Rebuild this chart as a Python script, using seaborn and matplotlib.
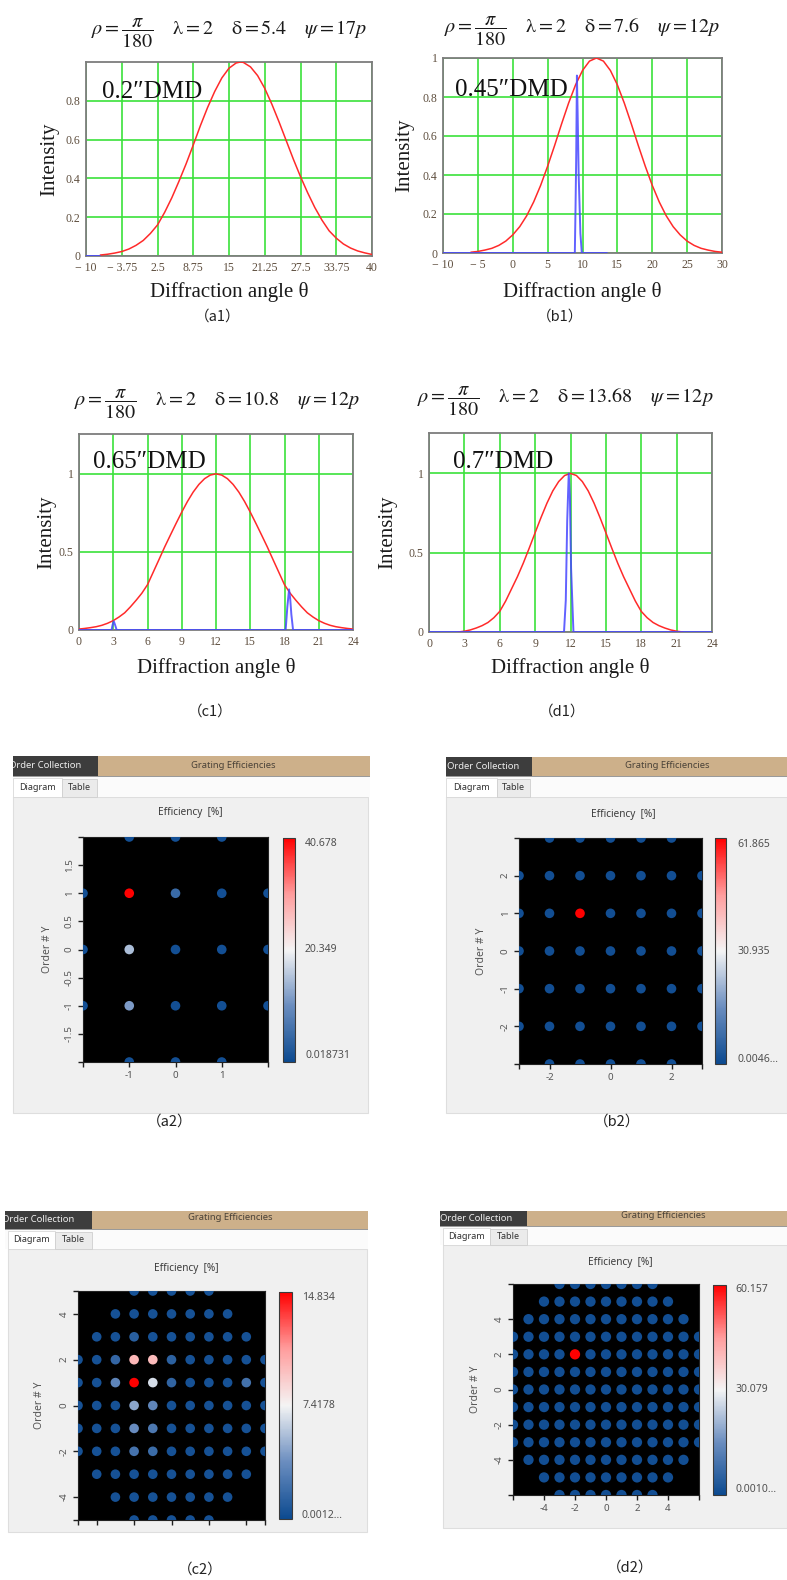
import matplotlib
matplotlib.use("Agg")
import matplotlib.pyplot as plt
import seaborn as sns
import pandas as pd
from matplotlib.colors import LinearSegmentedColormap, Normalize
from matplotlib.patches import Rectangle
from matplotlib.cm import ScalarMappable

# ======================= DATA =======================
# ---- (a1) 0.2" DMD ----
a1_red_x = [-7.5, -6.25, -5, -3.75, -2.5, -1.25, 0, 1.25, 2.5, 3.75, 5, 6.25, 7.5, 8.75, 10, 11.25,
            12.5, 13.75, 15, 16.25, 17, 17.5, 18.75, 20, 21.25, 22.5, 23.75, 25, 26.25, 27.5, 28.75,
            30, 31.25, 32.5, 33.75, 35, 36.25, 37.5, 38.75, 40]
a1_red_y = [0.005, 0.009, 0.015, 0.023, 0.036, 0.055, 0.08, 0.116, 0.16, 0.225, 0.30, 0.385, 0.475,
            0.572, 0.672, 0.765, 0.848, 0.918, 0.968, 0.995, 1.0, 0.998, 0.975, 0.930, 0.864, 0.782,
            0.691, 0.595, 0.499, 0.409, 0.326, 0.25, 0.185, 0.13, 0.092, 0.062, 0.041, 0.026, 0.016, 0.008]
a1_blue_x = [-10, -7.5]
a1_blue_y = [0, 0]
a1_xticks = [-10, -3.75, 2.5, 8.75, 15, 21.25, 27.5, 33.75, 40]
a1_xticklabels = ["\u2212 10", "\u2212 3.75", "2.5", "8.75", "15", "21.25", "27.5", "33.75", "40"]
a1_yticks = [0, 0.2, 0.4, 0.6, 0.8]
a1_yticklabels = ["0", "0.2", "0.4", "0.6", "0.8"]

# ---- (b1) 0.45" DMD ----
b1_red_x = [-6, -5, -4, -3, -2, -1, 0, 1, 2, 3, 4, 5, 6, 7, 8, 9, 10, 11, 12, 13, 14, 15, 16, 17, 18,
            19, 20, 21, 22, 23, 24, 25, 26, 27, 28, 29, 30]
b1_red_y = [0.004, 0.008, 0.015, 0.024, 0.039, 0.061, 0.093, 0.135, 0.191, 0.262, 0.347, 0.445, 0.551,
            0.662, 0.768, 0.862, 0.936, 0.984, 1.0, 0.984, 0.936, 0.862, 0.768, 0.662, 0.551, 0.445,
            0.347, 0.262, 0.191, 0.135, 0.093, 0.061, 0.039, 0.024, 0.015, 0.008, 0.004]
b1_blue_x = [-10, 8.9, 9.0, 9.1, 9.2, 9.3, 9.45, 9.7, 9.9, 13.5]
b1_blue_y = [0, 0, 0.23, 0.5, 0.91, 0.72, 0.4, 0.1, 0, 0]
b1_xticks = [-10, -5, 0, 5, 10, 15, 20, 25, 30]
b1_xticklabels = ["\u2212 10", "\u2212 5", "0", "5", "10", "15", "20", "25", "30"]
b1_yticks = [0, 0.2, 0.4, 0.6, 0.8, 1.0]
b1_yticklabels = ["0", "0.2", "0.4", "0.6", "0.8", "1"]

# ---- (c1) 0.65" DMD ----
c1_red_x = [0, 0.5, 1, 1.5, 2, 2.5, 3, 3.5, 4, 4.5, 5, 5.5, 6, 6.5, 7, 7.5, 8, 8.5, 9, 9.5, 10, 10.5,
            11, 11.5, 12, 12.5, 13, 13.5, 14, 14.5, 15, 15.5, 16, 16.5, 17, 17.5, 18, 18.5, 19, 19.5,
            20, 20.5, 21, 21.5, 22, 22.5, 23, 23.5, 24]
c1_red_y = [0.006, 0.01, 0.015, 0.021, 0.03, 0.043, 0.06, 0.083, 0.11, 0.148, 0.19, 0.235, 0.29, 0.37,
            0.45, 0.531, 0.607, 0.682, 0.755, 0.823, 0.883, 0.932, 0.969, 0.992, 1.0, 0.992, 0.969,
            0.932, 0.883, 0.823, 0.755, 0.682, 0.607, 0.531, 0.45, 0.37, 0.29, 0.235, 0.19, 0.148,
            0.11, 0.083, 0.06, 0.043, 0.03, 0.021, 0.015, 0.01, 0.006]
c1_blue_x = [0, 2.85, 2.95, 3.05, 3.15, 3.3, 18.1, 18.25, 18.4, 18.5, 18.6, 18.75, 24]
c1_blue_y = [0, 0, 0.035, 0.055, 0.035, 0, 0, 0.15, 0.26, 0.2, 0.1, 0, 0]

# ---- (d1) 0.7" DMD ----
d1_red_x = [2.5, 3, 3.5, 4, 4.5, 5, 5.5, 6, 6.5, 7, 7.5, 8, 8.5, 9, 9.5, 10, 10.5, 11, 11.5, 12,
            12.5, 13, 13.5, 14, 14.5, 15, 15.5, 16, 16.5, 17, 17.5, 18, 18.5, 19, 19.5, 20, 20.5, 21, 21.5]
d1_red_y = [0, 0.005, 0.013, 0.025, 0.04, 0.06, 0.09, 0.13, 0.195, 0.272, 0.349, 0.435, 0.529, 0.626,
            0.722, 0.812, 0.890, 0.949, 0.987, 1.0, 0.987, 0.949, 0.890, 0.812, 0.722, 0.626, 0.529,
            0.435, 0.349, 0.272, 0.195, 0.13, 0.09, 0.06, 0.04, 0.025, 0.013, 0.005, 0]
d1_blue_x = [0, 11.45, 11.6, 11.72, 11.85, 11.95, 12.05, 12.25, 24]
d1_blue_y = [0, 0, 0.2, 0.7, 1.0, 0.85, 0.4, 0, 0]

cd1_xticks = [0, 3, 6, 9, 12, 15, 18, 21, 24]
cd1_xticklabels = ["0", "3", "6", "9", "12", "15", "18", "21", "24"]
cd1_yticks = [0, 0.5, 1.0]
cd1_yticklabels = ["0", "0.5", "1"]

titles = [
    r"$\rho=\dfrac{\pi}{180}\quad\;\mathrm{\lambda}=2\quad\;\mathrm{\delta}=5.4\quad\;\psi=17p$",
    r"$\rho=\dfrac{\pi}{180}\quad\;\mathrm{\lambda}=2\quad\;\mathrm{\delta}=7.6\quad\;\psi=12p$",
    r"$\rho=\dfrac{\pi}{180}\quad\;\mathrm{\lambda}=2\quad\;\mathrm{\delta}=10.8\quad\;\psi=12p$",
    r"$\rho=\dfrac{\pi}{180}\quad\;\mathrm{\lambda}=2\quad\;\mathrm{\delta}=13.68\quad\;\psi=12p$",
]
dmd_labels = ["0.2\u2033DMD", "0.45\u2033DMD", "0.65\u2033DMD", "0.7\u2033DMD"]
captions = ["\uff08a1\uff09", "\uff08b1\uff09", "\uff08c1\uff09", "\uff08d1\uff09",
            "\uff08a2\uff09", "\uff08b2\uff09", "\uff08c2\uff09", "\uff08d2\uff09"]

# ---- efficiency diagrams: rows of diffraction orders ----
a2_rows_y = [2, 1, 0, -1, -2]
a2_row_xmin = [-1, -2, -2, -2, -1]
a2_base = 0.9
a2_hot_x = [-1, -1, -1, 0]
a2_hot_y = [1, 0, -1, 1]
a2_hot_val = [40.678, 15.0, 11.5, 5.0]
a2_range = [0.018731, 40.678]
a2_cbar_labels = ["40.678", "20.349", "0.018731"]
a2_xticks = [-2, -1, 0, 1, 2]
a2_xticklabels = ["", "-1", "0", "1", ""]
a2_yticks = [-2, -1.5, -1, -0.5, 0, 0.5, 1, 1.5, 2]
a2_yticklabels = ["", "-1.5", "-1", "-0.5", "0", "0.5", "1", "1.5", ""]

b2_rows_y = [3, 2, 1, 0, -1, -2, -3]
b2_row_xmin = [-2, -3, -3, -3, -3, -3, -2]
b2_base = 1.2
b2_hot_x = [-1]
b2_hot_y = [1]
b2_hot_val = [61.865]
b2_range = [0.0046, 61.865]
b2_cbar_labels = ["61.865", "30.935", "0.0046..."]
b2_xticks = [-3, -2, 0, 2, 3]
b2_xticklabels = ["", "-2", "0", "2", ""]
b2_yticks = [-3, -2, -1, 0, 1, 2, 3]
b2_yticklabels = ["", "-2", "-1", "0", "1", "2", ""]

c2_rows_y = [5, 4, 3, 2, 1, 0, -1, -2, -3, -4, -5]
c2_row_xmin = [-2, -3, -4, -5, -5, -5, -5, -5, -4, -3, -2]
c2_base = 0.45
c2_hot_x = [-2, -2, -1, -1, -2, -1, -3, -2, -1, -2, -1, 4, -3, 0, 0, -2]
c2_hot_y = [1, 2, 2, 1, 0, 0, 1, -1, -1, -2, -2, 1, 2, 1, 2, 3]
c2_hot_val = [14.834, 10.0, 9.8, 6.6, 4.6, 3.3, 3.2, 3.6, 2.6, 2.3, 1.9, 2.2, 1.6, 1.5, 1.3, 1.2]
c2_range = [0.0012, 14.834]
c2_cbar_labels = ["14.834", "7.4178", "0.0012..."]
c2_xticks = [-5, -4, -2, 0, 2, 4, 5]
c2_xticklabels = ["", "", "", "", "", "", ""]
c2_yticks = [-5, -4, -2, 0, 2, 4, 5]
c2_yticklabels = ["", "-4", "-2", "0", "2", "4", ""]

d2_rows_y = [6, 5, 4, 3, 2, 1, 0, -1, -2, -3, -4, -5, -6]
d2_row_xmin = [-3, -4, -5, -6, -6, -6, -6, -6, -6, -6, -5, -4, -3]
d2_base = 1.0
d2_hot_x = [-2]
d2_hot_y = [2]
d2_hot_val = [60.157]
d2_range = [0.0010, 60.157]
d2_cbar_labels = ["60.157", "30.079", "0.0010..."]
d2_xticks = [-6, -4, -2, 0, 2, 4, 6]
d2_xticklabels = ["", "-4", "-2", "0", "2", "4", ""]
d2_yticks = [-6, -4, -2, 0, 2, 4, 6]
d2_yticklabels = ["", "-4", "-2", "0", "2", "4", ""]

# ======================= STYLE =======================
sns.set_theme(style="white")
plt.rcParams["font.family"] = ["DejaVu Sans"]
plt.rcParams["mathtext.fontset"] = "stix"

SERIF = ["Liberation Serif", "DejaVu Serif"]
UI = ["Noto Sans", "DejaVu Sans"]
CJK = ["Noto Sans CJK SC", "DejaVu Sans"]
TAN = "#cdb08a"
DARK = "#3d3d3d"
GREEN = "#3be23b"
cmap = LinearSegmentedColormap.from_list(
    "vlab", ["#0c4a90", "#6a8dbf", "#f4f4f4", "#ff9d9d", "#ff0000"])

W, H = 787, 1580
fig = plt.figure(figsize=(W / 100, H / 100), dpi=100)
fig.patch.set_facecolor("white")


def px_rect(l, t, r, b):
    return [l / W, 1 - b / H, (r - l) / W, (b - t) / H]


def add_box(l, t, r, b, fc, ec="none", lw=0.0, z=-2):
    p = Rectangle((l / W, 1 - b / H), (r - l) / W, (b - t) / H,
                  transform=fig.transFigure, facecolor=fc, edgecolor=ec,
                  linewidth=lw, zorder=z)
    fig.add_artist(p)
    return p


def ftext(x, y, s, **kw):
    kw.setdefault("ha", "center")
    kw.setdefault("va", "center")
    return fig.text(x / W, 1 - y / H, s, **kw)


# ======================= TOP: intensity curves =======================
curve_panels = [
    dict(rect=(86, 62, 372, 256), rx=a1_red_x, ry=a1_red_y, bx=a1_blue_x, by=a1_blue_y,
         xlim=(-10, 40), ylim=(0, 1.0), xt=a1_xticks, xtl=a1_xticklabels, yt=a1_yticks, ytl=a1_yticklabels,
         dmd=(0.055, 0.847), ylab=-0.126, xlab=-0.186, title=(229, 33), cap=(218, 317)),
    dict(rect=(443, 58, 722, 253), rx=b1_red_x, ry=b1_red_y, bx=b1_blue_x, by=b1_blue_y,
         xlim=(-10, 30), ylim=(0, 1.0), xt=b1_xticks, xtl=b1_xticklabels, yt=b1_yticks, ytl=b1_yticklabels,
         dmd=(0.042, 0.837), ylab=-0.138, xlab=-0.198, title=(582, 31), cap=(560, 317)),
    dict(rect=(79, 434, 353, 630), rx=c1_red_x, ry=c1_red_y, bx=c1_blue_x, by=c1_blue_y,
         xlim=(0, 24), ylim=(0, 1.255), xt=cd1_xticks, xtl=cd1_xticklabels, yt=cd1_yticks, ytl=cd1_yticklabels,
         dmd=(0.052, 0.855), ylab=-0.117, xlab=-0.192, title=(217, 404), cap=(210, 712)),
    dict(rect=(429, 433, 712, 632), rx=d1_red_x, ry=d1_red_y, bx=d1_blue_x, by=d1_blue_y,
         xlim=(0, 24), ylim=(0, 1.255), xt=cd1_xticks, xtl=cd1_xticklabels, yt=cd1_yticks, ytl=cd1_yticklabels,
         dmd=(0.086, 0.852), ylab=-0.145, xlab=-0.181, title=(565, 401), cap=(562, 712)),
]

for i, p in enumerate(curve_panels):
    ax = fig.add_axes(px_rect(*p["rect"]))
    ax.set_facecolor("white")
    sns.lineplot(x=p["rx"], y=p["ry"], ax=ax, color="#ff2a2a", linewidth=1.1,
                 sort=False, estimator=None, zorder=3)
    sns.lineplot(x=p["bx"], y=p["by"], ax=ax, color="#4646ff", linewidth=1.4, alpha=0.85,
                 sort=False, estimator=None, zorder=4)
    ax.set_xlim(*p["xlim"])
    ax.set_ylim(*p["ylim"])
    ax.set_xticks(p["xt"])
    ax.set_xticklabels(p["xtl"])
    ax.set_yticks(p["yt"])
    ax.set_yticklabels(p["ytl"])
    ax.grid(True, color=GREEN, linewidth=1.2)
    ax.set_axisbelow(True)
    ax.tick_params(length=0, pad=4, labelsize=8.5, labelcolor="#5e4e3e")
    for lbl in ax.get_xticklabels() + ax.get_yticklabels():
        lbl.set_fontfamily(SERIF)
    for s in ax.spines.values():
        s.set_visible(True)
        s.set_color("#7d7d7d")
        s.set_linewidth(1.3)
    ax.set_xlabel("Diffraction angle \u03b8", fontfamily=SERIF, fontsize=15, color="#1a1a1a")
    ax.set_ylabel("Intensity", fontfamily=SERIF, fontsize=15, color="#1a1a1a")
    ax.xaxis.set_label_coords(0.5, p["xlab"])
    ax.xaxis.label.set_va("center")
    ax.yaxis.set_label_coords(p["ylab"], 0.5)
    ax.yaxis.label.set_va("center")
    ax.text(p["dmd"][0], p["dmd"][1], dmd_labels[i], transform=ax.transAxes,
            fontfamily=SERIF, fontsize=18, color="#111111", ha="left", va="center", zorder=6)
    ftext(p["title"][0], p["title"][1], titles[i], fontsize=14.5, color="#1a1a1a")
    ftext(p["cap"][0], p["cap"][1], captions[i], fontsize=10.5, color="#222222", family=CJK)


# ======================= BOTTOM: grating efficiency diagrams =======================
def order_table(rows_y, row_xmin, base, hot_x, hot_y, hot_val):
    recs = []
    for y, xm in zip(rows_y, row_xmin):
        for x in range(xm, -xm + 1):
            recs.append((x, y, base))
    df = pd.DataFrame(recs, columns=["order_x", "order_y", "eff"])
    for x, y, v in zip(hot_x, hot_y, hot_val):
        df.loc[(df.order_x == x) & (df.order_y == y), "eff"] = v
    return df


ui_panels = [
    dict(df=order_table(a2_rows_y, a2_row_xmin, a2_base, a2_hot_x, a2_hot_y, a2_hot_val),
         rng=a2_range, cbl=a2_cbar_labels, xt=a2_xticks, xtl=a2_xticklabels, yt=a2_yticks, ytl=a2_yticklabels,
         lim=(-2, 2, -2, 2), s=48,
         header=(13, 756, 370, 776), dark_r=98, tabs_b=797, diag=(13, 62), table=(62, 97),
         panel=(13, 797, 368, 1113), title=(190, 813), ax=(83, 837, 268, 1062), cax=(283, 838, 295, 1062),
         cbl_x=305, cbl_y=(844, 950, 1055), ylab_x=47, order_x=9, grating=(233, 766), cap=(170, 1122)),
    dict(df=order_table(b2_rows_y, b2_row_xmin, b2_base, b2_hot_x, b2_hot_y, b2_hot_val),
         rng=b2_range, cbl=b2_cbar_labels, xt=b2_xticks, xtl=b2_xticklabels, yt=b2_yticks, ytl=b2_yticklabels,
         lim=(-3, 3, -3, 3), s=48,
         header=(446, 757, 787, 776), dark_r=532, tabs_b=797, diag=(446, 497), table=(497, 530),
         panel=(446, 797, 787, 1113), title=(623, 815), ax=(519, 838, 702, 1064), cax=(715, 838, 726, 1064),
         cbl_x=737, cbl_y=(845, 952, 1060), ylab_x=482, order_x=447, grating=(667, 766), cap=(617, 1122)),
    dict(df=order_table(c2_rows_y, c2_row_xmin, c2_base, c2_hot_x, c2_hot_y, c2_hot_val),
         rng=c2_range, cbl=c2_cbar_labels, xt=c2_xticks, xtl=c2_xticklabels, yt=c2_yticks, ytl=c2_yticklabels,
         lim=(-5, 5, -5, 5), s=48,
         header=(5, 1211, 368, 1229), dark_r=92, tabs_b=1249, diag=(8, 55), table=(55, 92),
         panel=(8, 1249, 367, 1532), title=(186, 1268), ax=(78, 1291, 265, 1520), cax=(279, 1292, 292, 1519),
         cbl_x=302, cbl_y=(1298, 1406, 1515), ylab_x=40, order_x=2, grating=(230, 1218), cap=(200, 1570)),
    dict(df=order_table(d2_rows_y, d2_row_xmin, d2_base, d2_hot_x, d2_hot_y, d2_hot_val),
         rng=d2_range, cbl=d2_cbar_labels, xt=d2_xticks, xtl=d2_xticklabels, yt=d2_yticks, ytl=d2_yticklabels,
         lim=(-6, 6, -6, 6), s=55,
         header=(440, 1211, 787, 1226), dark_r=527, tabs_b=1245, diag=(443, 490), table=(490, 527),
         panel=(443, 1245, 787, 1528), title=(620, 1262), ax=(513, 1284, 699, 1495), cax=(713, 1285, 726, 1495),
         cbl_x=735, cbl_y=(1290, 1390, 1490), ylab_x=476, order_x=440, grating=(663, 1216), cap=(630, 1568)),
]

for k, p in enumerate(ui_panels):
    hl, ht, hr, hb = p["header"]
    # window chrome
    add_box(p["panel"][0], p["panel"][1], p["panel"][2], p["panel"][3], "#f0f0f0", ec="#dedede", lw=0.8)
    add_box(hl, hb, hr, p["tabs_b"], "#fbfbfb")
    add_box(hl, ht, hr, hb, TAN)
    dark = add_box(hl, ht, p["dark_r"], hb, DARK)
    add_box(hl, hb, hr, hb + 1.2, "#9a9a9a", z=-1)
    add_box(p["diag"][0], hb + 1.5, p["diag"][1], p["tabs_b"], "#ffffff", ec="#d8d8d8", lw=0.6)
    add_box(p["table"][0], hb + 3, p["table"][1], p["tabs_b"], "#ebebeb", ec="#cfcfcf", lw=0.6)

    t = ftext(p["order_x"], (ht + hb) / 2, "Order Collection", ha="left", fontsize=6.8,
              color="#eeeeee", family=UI)
    t.set_clip_path(dark)
    ftext(p["grating"][0], p["grating"][1], "Grating Efficiencies", fontsize=6.8, color="#4a4238", family=UI)
    ty = (hb + p["tabs_b"]) / 2 + 1
    ftext((p["diag"][0] + p["diag"][1]) / 2, ty, "Diagram", fontsize=6.5, color="#333333", family=UI)
    ftext((p["table"][0] + p["table"][1]) / 2, ty, "Table", fontsize=6.5, color="#333333", family=UI)
    ftext(p["title"][0], p["title"][1], "Efficiency  [%]", fontsize=7.2, color="#3a3a3a", family=UI)

    vmin, vmax = p["rng"]
    norm = Normalize(vmin=vmin, vmax=vmax)
    ax = fig.add_axes(px_rect(*p["ax"]))
    ax.set_facecolor("black")
    sns.scatterplot(data=p["df"], x="order_x", y="order_y", hue="eff", palette=cmap, hue_norm=norm,
                    s=p["s"], linewidth=0, legend=False, ax=ax, zorder=3)
    x0, x1, y0, y1 = p["lim"]
    ax.set_xlim(x0, x1)
    ax.set_ylim(y0, y1)
    ax.set_xticks(p["xt"])
    ax.set_xticklabels(p["xtl"])
    ax.set_yticks(p["yt"])
    ax.set_yticklabels(p["ytl"])
    ax.set_xlabel("")
    ax.tick_params(axis="both", direction="out", length=3.5, width=1.0, color="#1e1e1e",
                   labelsize=7, labelcolor="#555555", pad=3, bottom=True, left=True)
    ax.tick_params(axis="y", labelrotation=90)
    for lbl in ax.get_xticklabels() + ax.get_yticklabels():
        lbl.set_fontfamily(UI)
    for lbl in ax.get_yticklabels():
        lbl.set_va("center")
    for s in ax.spines.values():
        s.set_visible(True)
        s.set_color("#222222")
        s.set_linewidth(0.8)
    ax.set_ylabel("Order # Y", fontsize=7.5, color="#555555", family=UI)
    ax.yaxis.set_label_coords((p["ylab_x"] - p["ax"][0]) / (p["ax"][2] - p["ax"][0]), 0.5)
    ax.yaxis.label.set_va("center")

    cax = fig.add_axes(px_rect(*p["cax"]))
    cb = fig.colorbar(ScalarMappable(norm=norm, cmap=cmap), cax=cax, ticks=[])
    cb.outline.set_edgecolor("#3a3a3a")
    cb.outline.set_linewidth(0.8)
    for lab, yy in zip(p["cbl"], p["cbl_y"]):
        ftext(p["cbl_x"], yy, lab, ha="left", fontsize=7.5, color="#505050", family=UI)

    ftext(p["cap"][0], p["cap"][1], captions[4 + k], fontsize=10.5, color="#222222", family=CJK)

fig.savefig("out.png", dpi=100, facecolor="white")
